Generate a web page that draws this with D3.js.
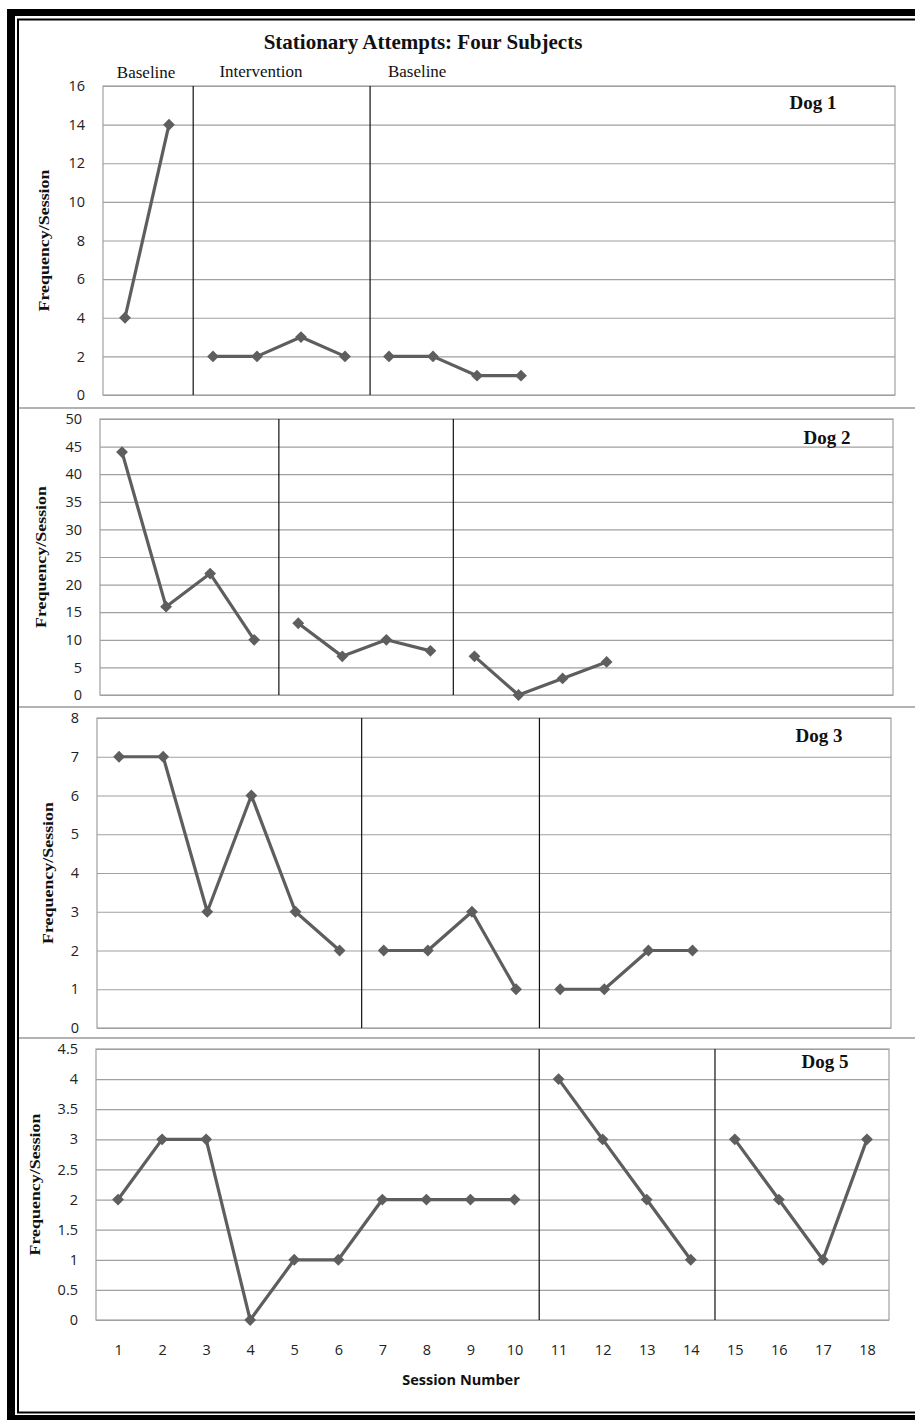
<!DOCTYPE html>
<html>
<head>
<meta charset="utf-8">
<script src="https://cdn.jsdelivr.net/npm/d3@7"></script>
<style>
  body { margin: 0; background: #fff; }
  svg { display: block; }
</style>
</head>
<body>
<div id="chart"></div>
<script>
const width = 915
const height = 1420

// DATA
const sessionLabels = ["1", "2", "3", "4", "5", "6", "7", "8", "9", "10", "11", "12", "13", "14", "15", "16", "17", "18"]
const phaseLabels = ["Baseline", "Intervention", "Baseline"]
// label centres in session units (top panel)
const phaseLabelAt = [1.48, 4.09, 7.64]

const dog1 = [4, 14, 2, 2, 3, 2, 2, 2, 1, 1]
const dog2 = [44, 16, 22, 10, 13, 7, 10, 8, 7, 0, 3, 6]
const dog3 = [7, 7, 3, 6, 3, 2, 2, 2, 3, 1, 1, 1, 2, 2]
const dog5 = [2, 3, 3, 0, 1, 1, 2, 2, 2, 2, 4, 3, 2, 1, 3, 2, 1, 3]

// phase change lines, in session units
const dog1Phases = [2.55, 6.57]
const dog2Phases = [4.56, 8.52]
const dog3Phases = [6.5, 10.53]
const dog5Phases = [10.56, 14.55]

const dogNames = ["Dog 1", "Dog 2", "Dog 3", "Dog 5"]
const yMaxes = [16, 50, 8, 4.5]
const ySteps = [2, 5, 1, 0.5]

// LAYOUT
const boxes = [
  { l: 103, r: 895, t: 86, b: 395, labelX: 813, labelY: 102, titleX: 44 },
  { l: 100, r: 893, t: 419, b: 695, labelX: 827, labelY: 437, titleX: 41 },
  { l: 97, r: 891, t: 718, b: 1028, labelX: 819, labelY: 735, titleX: 48 },
  { l: 96, r: 889, t: 1049, b: 1320, labelX: 825, labelY: 1061, titleX: 35 }
]
const separators = [408, 707, 1038]

const lineColor = "#5e5e5e"
const gridColor = "#a0a0a0"
const serif = "'Liberation Serif', 'Times New Roman', serif"
const sans = "'Open Sans', sans-serif"

const panels = [dog1, dog2, dog3, dog5].map((values, i) => ({
  name: dogNames[i],
  values: values,
  phases: [dog1Phases, dog2Phases, dog3Phases, dog5Phases][i],
  yMax: yMaxes[i],
  yStep: ySteps[i],
  box: boxes[i]
}))

const svg = d3
  .select("#chart")
  .append("svg")
  .attr("width", width)
  .attr("height", height)
  .attr("viewBox", [0, 0, width, height])

// FRAME (thick outer + thin inner border)
svg.append("rect").attr("x", 7).attr("y", 9).attr("width", width).attr("height", height).attr("fill", "#000")
svg.append("rect").attr("x", 15).attr("y", 16).attr("width", width).attr("height", 1399).attr("fill", "#fff")
svg.append("rect").attr("x", 18).attr("y", 19.5).attr("width", width).attr("height", 1393)
  .attr("fill", "#fff").attr("stroke", "#000").attr("stroke-width", 2)

// separators between panels
svg.selectAll(".sep")
  .data(separators)
  .join("line")
  .attr("class", "sep")
  .attr("x1", 19).attr("x2", width)
  .attr("y1", (d) => d).attr("y2", (d) => d)
  .attr("stroke", "#9a9a9a")
  .attr("stroke-width", 1.5)

// TITLE
svg.append("text")
  .attr("x", 423).attr("y", 49)
  .attr("text-anchor", "middle")
  .style("font-family", serif)
  .style("font-weight", "bold")
  .style("font-size", "21px")
  .attr("fill", "#111")
  .text("Stationary Attempts: Four Subjects")

const diamond = d3.symbol().type(d3.symbolSquare).size(70)

panels.forEach((p, pi) => {
  const b = p.box
  const g = svg.append("g").attr("class", "panel")

  const x = d3.scaleLinear().domain([0.5, sessionLabels.length + 0.5]).range([b.l, b.r])
  const y = d3.scaleLinear().domain([0, p.yMax]).range([b.b, b.t])
  const yTicks = d3.range(0, p.yMax + p.yStep / 2, p.yStep)

  // gridlines + y labels
  const yAxis = g.append("g")
    .attr("transform", `translate(${b.l},0)`)
    .call(d3.axisLeft(y).tickValues(yTicks).tickSize(-(b.r - b.l)).tickPadding(18).tickFormat(d3.format("~g")))
  yAxis.select(".domain").remove()
  yAxis.selectAll(".tick line").attr("stroke", gridColor).attr("stroke-width", 1.2)
  yAxis.selectAll(".tick text")
    .attr("fill", "#222")
    .style("font-family", sans)
    .style("font-size", "14.5px")

  // plot frame
  g.append("rect")
    .attr("x", b.l).attr("y", b.t)
    .attr("width", b.r - b.l).attr("height", b.b - b.t)
    .attr("fill", "none").attr("stroke", gridColor).attr("stroke-width", 1.2)

  // phase change lines
  g.selectAll(".phase")
    .data(p.phases)
    .join("line")
    .attr("class", "phase")
    .attr("x1", (d) => x(d)).attr("x2", (d) => x(d))
    .attr("y1", b.t).attr("y2", b.b)
    .attr("stroke", "#111").attr("stroke-width", 1.2)

  // series split into phases
  const pts = p.values.map((v, i) => ({ s: i + 1, v: v }))
  const cuts = [0.5, ...p.phases, sessionLabels.length + 0.5]
  const segments = d3.range(cuts.length - 1)
    .map((k) => pts.filter((d) => d.s > cuts[k] && d.s < cuts[k + 1]))
    .filter((seg) => seg.length > 0)

  const line = d3.line().x((d) => x(d.s)).y((d) => y(d.v))

  g.selectAll(".series")
    .data(segments)
    .join("path")
    .attr("class", "series")
    .attr("d", line)
    .attr("fill", "none")
    .attr("stroke", lineColor)
    .attr("stroke-width", 3.2)
    .attr("stroke-linejoin", "round")

  g.selectAll(".marker")
    .data(pts)
    .join("path")
    .attr("class", "marker")
    .attr("d", diamond)
    .attr("transform", (d) => `translate(${x(d.s)},${y(d.v)}) rotate(45)`)
    .attr("fill", lineColor)

  // dog label
  g.append("text")
    .attr("x", b.labelX).attr("y", b.labelY)
    .attr("text-anchor", "middle")
    .attr("dominant-baseline", "central")
    .style("font-family", serif)
    .style("font-weight", "bold")
    .style("font-size", "19px")
    .attr("fill", "#111")
    .text(p.name)

  // y title
  g.append("text")
    .attr("transform", `translate(${b.titleX},${(b.t + b.b) / 2}) rotate(-90)`)
    .attr("text-anchor", "middle")
    .attr("dominant-baseline", "central")
    .attr("textLength", 142)
    .attr("lengthAdjust", "spacingAndGlyphs")
    .style("font-family", serif)
    .style("font-weight", "bold")
    .style("font-size", "15px")
    .attr("fill", "#111")
    .text("Frequency/Session")

  // phase labels on top panel
  if (pi === 0) {
    g.selectAll(".phase-label")
      .data(phaseLabels)
      .join("text")
      .attr("class", "phase-label")
      .attr("x", (d, i) => x(phaseLabelAt[i]))
      .attr("y", (d, i) => (i === 0 ? 72 : 71))
      .attr("text-anchor", "middle")
      .attr("dominant-baseline", "central")
      .style("font-family", serif)
      .style("font-size", "17px")
      .attr("fill", "#111")
      .text((d) => d)
  }

  // x axis on bottom panel
  if (pi === panels.length - 1) {
    const xAxis = g.append("g")
      .attr("transform", `translate(0,${b.b})`)
      .call(d3.axisBottom(x).tickValues(sessionLabels.map(Number)).tickSize(0).tickPadding(0))
    xAxis.select(".domain").remove()
    xAxis.selectAll(".tick text")
      .attr("y", 29)
      .attr("dy", null)
      .attr("dominant-baseline", "central")
      .attr("fill", "#222")
      .style("font-family", sans)
      .style("font-size", "14.5px")

    g.append("text")
      .attr("x", 461).attr("y", 1379)
      .attr("text-anchor", "middle")
      .attr("dominant-baseline", "central")
      .style("font-family", sans)
      .style("font-weight", "bold")
      .style("font-size", "14.5px")
      .attr("fill", "#111")
      .text("Session Number")
  }
})
</script>
</body>
</html>
